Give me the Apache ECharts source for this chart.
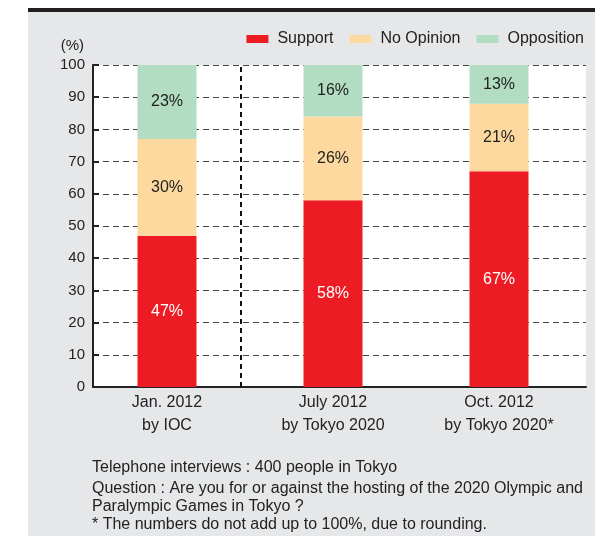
<!DOCTYPE html>
<html><head><meta charset="utf-8">
<script src="https://cdn.jsdelivr.net/npm/echarts@6/dist/echarts.min.js"></script>
<style>html,body{margin:0;padding:0;background:#fff}#c{width:595px;height:536px}</style>
</head><body><div id="c"></div>
<script>
var categories = ['Jan. 2012\nby IOC', 'July 2012\nby Tokyo 2020', 'Oct. 2012\nby Tokyo 2020*'];
var support = [47, 58, 67];
var noOpinion = [30, 26, 21];
var opposition = [23, 16, 13];
var yTicks = [0, 10, 20, 30, 40, 50, 60, 70, 80, 90, 100];
var notes = [
  'Telephone interviews : 400 people in Tokyo',
  'Question : Are you for or against the hosting of the 2020 Olympic and',
  'Paralympic Games in Tokyo ?',
  '* The numbers do not add up to 100%, due to rounding.'
];
var FONT = 'Liberation Sans, Arial, sans-serif';
function mkSeries(name, data, color, labelColor){
  return {
    name: name, type: 'bar', stack: 'all', data: data, barWidth: 59,
    xAxisIndex: 0, yAxisIndex: 0, z: 5,
    itemStyle: {color: color},
    label: {show: true, position: 'inside', formatter: '{c}%',
      color: labelColor, fontSize: 16, fontFamily: FONT},
    emphasis: {disabled: true}
  };
}
var chart = echarts.init(document.getElementById('c'));
var series = [
  mkSeries('Support', support, '#ED1C24', '#ffffff'),
  mkSeries('No Opinion', noOpinion, '#FDD9A0', '#222222'),
  mkSeries('Opposition', opposition, '#B2DDC2', '#222222'),
  {
    name: 'sep', type: 'line', xAxisIndex: 1, yAxisIndex: 1, data: [], z: 6,
    markLine: {
      silent: true, symbol: 'none', label: {show: false},
      lineStyle: {color: '#111', type: [5, 4], width: 2},
      data: [{xAxis: 0.305}]
    }
  }
];
chart.setOption({
  animation: false,
  backgroundColor: '#ffffff',
  graphic: [
    {type: 'rect', shape: {x: 28, y: 12, width: 567, height: 524}, style: {fill: '#E6E7E9'}, z: -10},
    {type: 'rect', shape: {x: 28, y: 8, width: 567, height: 4}, style: {fill: '#231F20'}, z: -9}
  ].concat(notes.map(function(t, i){
    return {type: 'text', left: 92, top: [460, 481, 499, 517][i],
      style: {text: t, fill: '#222', font: '16px ' + FONT}};
  })),
  legend: {
    right: 6, top: 26, itemWidth: 22, itemHeight: 8, itemGap: 16,
    icon: 'rect',
    textStyle: {fontSize: 16, color: '#222', fontFamily: FONT, padding: [0, 0, 0, 4]},
    data: ['Support', 'No Opinion', 'Opposition']
  },
  grid: [
    {left: 84, right: 13, top: 65, bottom: 149},
    {left: 93, right: 9, top: 65, bottom: 149, backgroundColor: '#ffffff', show: true, borderWidth: 0}
  ],
  xAxis: [
    {
      type: 'category', gridIndex: 0, data: categories,
      axisLine: {show: false}, axisTick: {show: false}, splitLine: {show: false},
      axisLabel: {fontSize: 16, color: '#222', fontFamily: FONT, lineHeight: 23, margin: 4}
    },
    {
      type: 'value', gridIndex: 1, min: 0, max: 1,
      axisLine: {show: true, onZero: false, lineStyle: {color: '#222', width: 2}},
      axisTick: {show: false}, axisLabel: {show: false}, splitLine: {show: false}
    }
  ],
  yAxis: [
    {type: 'value', gridIndex: 0, min: 0, max: 100, show: false, splitLine: {show: false}},
    {
      type: 'value', gridIndex: 1, min: 0, max: 100, interval: 10,
      name: '(%)', nameLocation: 'end', nameGap: 12,
      nameTextStyle: {fontSize: 15, color: '#222', fontFamily: FONT, align: 'right', padding: [0, 9, 0, 0]},
      axisLine: {show: true, lineStyle: {color: '#222', width: 2}},
      axisTick: {show: true, inside: true, length: 6, lineStyle: {color: '#222', width: 2}},
      axisLabel: {fontSize: 15, color: '#222', fontFamily: FONT, margin: 8,
        formatter: function(v){ return yTicks.indexOf(v) >= 0 ? String(v) : ''; }},
      splitLine: {show: true, lineStyle: {color: '#444', type: [6, 4], width: 1.2}}
    }
  ],
  series: series
});
</script></body></html>
